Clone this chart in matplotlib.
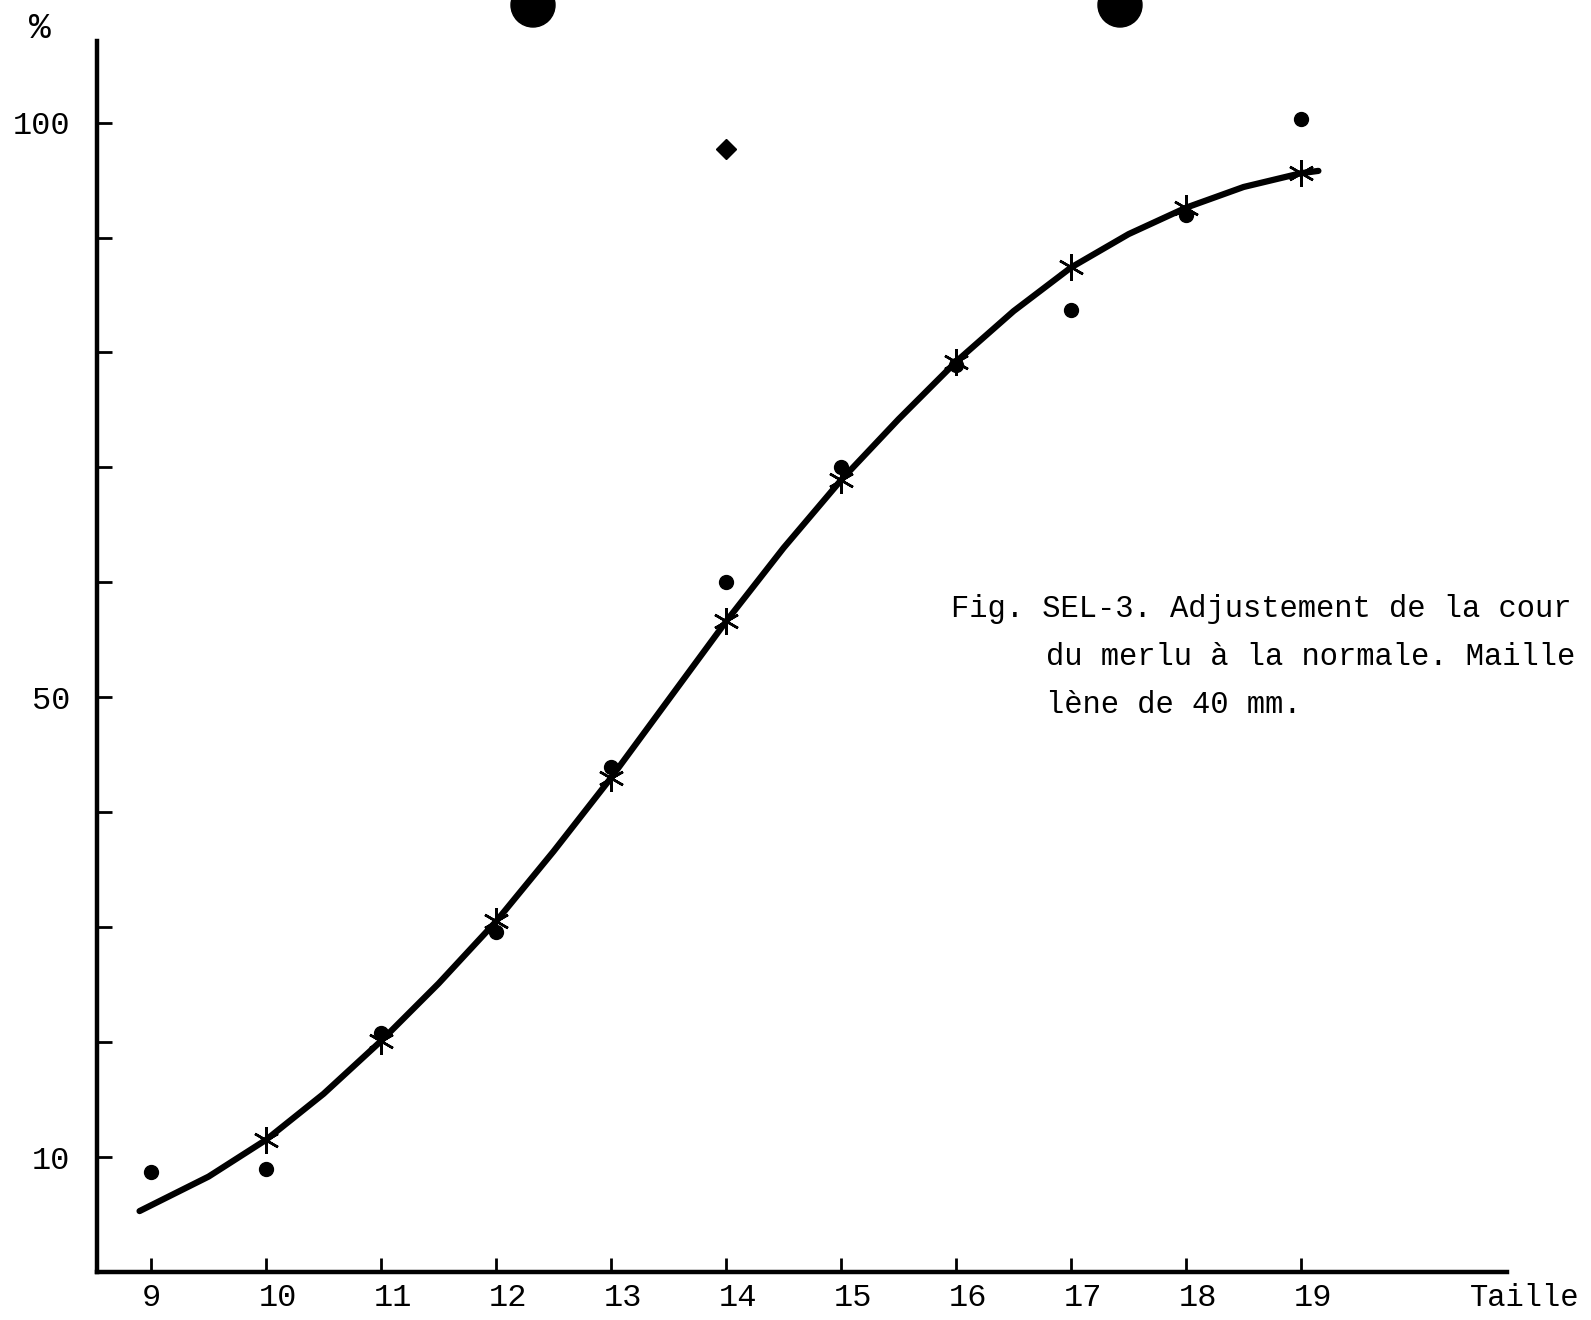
import matplotlib.pyplot as plt
from matplotlib.patches import Ellipse
from matplotlib.transforms import ScaledTranslation

# Valeurs (taille en cm, pourcentage retenu)
tailles = [9, 10, 11, 12, 13, 14, 15, 16, 17, 18, 19]
pct_observe = [8.7, 9.0, 20.8, 29.6, 43.9, 60.0, 70.0, 78.9, 83.7, 92.0, 100.3]

# point isole en haut de la colonne 14
taille_isole = [14]
pct_isole = [97.7]

tailles_ajuste = [10, 11, 12, 13, 14, 15, 16, 17, 18, 19]
pct_ajuste = [11.5, 20.1, 30.5, 43.0, 56.6, 68.9, 79.2, 87.4, 92.6, 95.6]

# courbe tracee a la main
courbe_x = [8.9, 9, 9.5, 10, 10.5, 11, 11.5, 12, 12.5, 13, 13.5, 14, 14.5,
            15, 15.5, 16, 16.5, 17, 17.5, 18, 18.5, 19, 19.15]
courbe_y = [5.3, 5.8, 8.3, 11.5, 15.5, 20.1, 25.1, 30.5, 36.6, 43.0, 49.8,
            56.6, 63.0, 68.9, 74.2, 79.2, 83.6, 87.4, 90.3, 92.6, 94.4, 95.6, 95.8]

y_ticks = [10, 20, 30, 40, 50, 60, 70, 80, 90, 100]
y_labels = ["10", "", "", "", "50", "", "", "", "", "100"]

W, H = 1591, 1320
police = "Liberation Mono"

fig = plt.figure(figsize=(W / 100, H / 100), dpi=100)
ax = fig.add_axes([97 / W, 1 - 1272 / H, (1507 - 97) / W, (1272 - 41) / H])

ax.plot(courbe_x, courbe_y, color="black", linewidth=4.5,
        solid_capstyle="round", solid_joinstyle="round")
ax.plot(tailles, pct_observe, linestyle="none", marker="o", markersize=10,
        color="black")
ax.plot(taille_isole, pct_isole, linestyle="none", marker="D", markersize=10,
        color="black")
ax.plot(tailles_ajuste, pct_ajuste, linestyle="none", marker=(6, 2, 0),
        markersize=19, markeredgewidth=1.8, color="black")

ax.set_xlim(8.53, 20.79)
ax.set_ylim(0, 107.1)

for s in ["top", "right"]:
    ax.spines[s].set_visible(False)
for s in ["left", "bottom"]:
    ax.spines[s].set_linewidth(3.2)

ax.set_xticks(tailles)
ax.set_xticklabels([str(t) for t in tailles], fontfamily=police, fontsize=23)
ax.set_yticks(y_ticks)
ax.set_yticklabels(y_labels, fontfamily=police, fontsize=23)
ax.tick_params(axis="x", direction="in", length=10, width=2, pad=8)
ax.tick_params(axis="y", direction="in", length=11, width=2, pad=19)

# les nombres a deux chiffres sont tapes un peu a droite du trait
decalage = ScaledTranslation(12 / 100, 0, fig.dpi_scale_trans)
for lab in ax.get_xticklabels():
    if len(lab.get_text()) > 1:
        lab.set_transform(lab.get_transform() + decalage)

fig.text(40 / W, 1 - 29 / H, "%", fontfamily=police, fontsize=26,
         ha="center", va="center")
fig.text(1470 / W, 1 - 1298 / H, "Taille", fontfamily=police, fontsize=22,
         ha="left", va="center")

# legende de la figure (coupee au bord droit du scan)
lignes = ["Fig. SEL-3. Adjustement de la cour",
          "du merlu à la normale. Maille",
          "lène de 40 mm."]
x_lignes = [951, 1046, 1046]
y_lignes = [617, 665, 713]
for txt, xl, yl in zip(lignes, x_lignes, y_lignes):
    fig.text(xl / W, 1 - yl / H, txt, fontfamily=police, fontsize=22,
             ha="left", va="baseline")

# trous de perforation en haut de la page
for xc in [533, 1120]:
    fig.patches.append(Ellipse((xc / W, 1 - 5 / H), 44 / W, 44 / H,
                               transform=fig.transFigure, color="black"))

fig.savefig("out.png", dpi=100)
